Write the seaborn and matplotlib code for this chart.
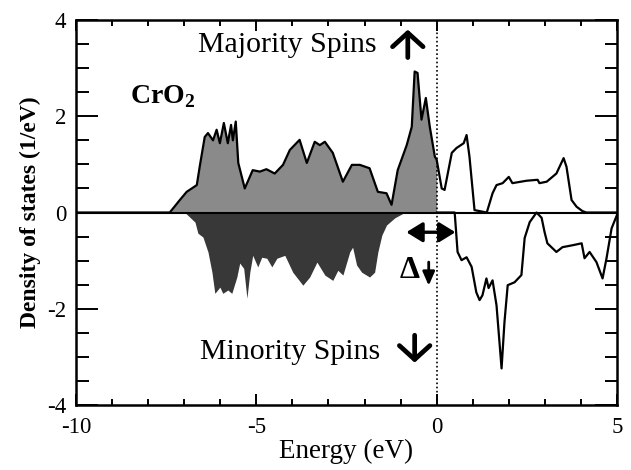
import numpy as np
import pandas as pd
import matplotlib
matplotlib.use("Agg")
import matplotlib.pyplot as plt
from matplotlib.ticker import MultipleLocator
import seaborn as sns

# Majority-spin DOS (1/eV) vs energy (eV)
maj_E = [-10, -7.4, -7.12, -6.93, -6.65, -6.57, -6.43, -6.34, -6.2, -6.1, -6.01, -5.9, -5.79, -5.7,
         -5.65, -5.57, -5.5, -5.32, -5.1, -4.9, -4.72, -4.49, -4.26, -4.07, -3.8, -3.6, -3.38, -3.24,
         -3.1, -2.88, -2.6, -2.35, -2.13, -1.86, -1.63, -1.39, -1.25, -1.08, -0.83, -0.69, -0.61,
         -0.53, -0.42, -0.3, -0.19, -0.05, 0.0, 0.14, 0.22, 0.42, 0.55, 0.75, 0.83, 0.91, 1.05, 1.39,
         1.55, 1.66, 1.83, 2.0, 2.1, 2.49, 2.8, 2.85, 3.05, 3.32, 3.52, 3.6, 3.74, 3.88, 4.04, 4.15, 5.0]
maj_D = [0, 0, 0.26, 0.43, 0.57, 0.95, 1.57, 1.65, 1.5, 1.72, 1.44, 1.86, 1.44, 1.82,
         1.5, 1.89, 1.03, 0.5, 0.88, 0.85, 0.9, 0.81, 0.99, 1.3, 1.51, 1.03, 1.47, 1.4,
         1.47, 1.24, 0.64, 0.99, 0.99, 0.92, 0.43, 0.4, 0.16, 0.88, 1.4, 1.78, 2.93,
         2.9, 1.93, 2.38, 1.78, 1.16, 1.1, 0.5, 0.47, 1.24, 1.34, 1.44, 1.61, 1.16, 0.05, 0.0,
         0.4, 0.57, 0.61, 0.74, 0.61, 0.66, 0.68, 0.61, 0.64, 0.81, 1.13, 0.95, 0.26, 0.12, 0.03, 0.0, 0.0]

# Minority-spin DOS (negative) vs energy (eV)
min_E = [-10, -6.98, -6.7, -6.62, -6.48, -6.34, -6.23, -6.15, -6.01, -5.93, -5.79, -5.68, -5.54,
         -5.46, -5.35, -5.26, -5.18, -5.1, -4.96, -4.85, -4.71, -4.57, -4.43, -4.21, -3.99, -3.71,
         -3.52, -3.32, -3.1, -2.88, -2.74, -2.6, -2.41, -2.33, -2.22, -2.08, -1.86, -1.72, -1.63,
         -1.52, -1.39, -1.16, -0.89, 0.0, 0.5, 0.58, 0.69, 0.83, 0.97, 1.1, 1.19, 1.27, 1.38, 1.44,
         1.55, 1.66, 1.8, 1.88, 1.97, 2.16, 2.35, 2.44, 2.58, 2.77, 2.91, 2.99, 3.07, 3.32, 3.49,
         3.77, 4.02, 4.1, 4.24, 4.43, 4.6, 4.71, 4.85, 5.0]
min_D = [0, 0, -0.2, -0.43, -0.51, -0.82, -1.24, -1.68, -1.55, -1.68, -1.61, -1.68, -1.34,
         -1.05, -1.16, -1.78, -1.24, -0.89, -1.13, -0.93, -0.95, -1.13, -0.95, -0.89, -1.24, -1.51,
         -1.34, -1.03, -1.3, -1.41, -1.2, -1.3, -0.82, -0.72, -1.09, -1.24, -1.34, -1.24, -0.82,
         -0.47, -0.26, -0.11, 0, 0, 0, -0.82, -0.99, -0.93, -1.13, -1.66, -1.82, -1.72, -1.37, -1.57,
         -1.41, -1.93, -3.24, -2.28, -1.51, -1.45, -1.3, -0.53, -0.2, 0.0, -0.11, -0.4, -0.64, -0.82, -0.72,
         -0.68, -0.64, -0.95, -0.82, -1.03, -1.37, -0.95, -0.33, -0.05]

x_ticks = [-10, -5, 0, 5]
y_ticks = [-4, -2, 0, 2, 4]

maj = pd.DataFrame({"E": maj_E, "D": maj_D})
mino = pd.DataFrame({"E": min_E, "D": min_D})

sns.set_theme(style="ticks")
plt.rcParams["font.family"] = ["Liberation Serif", "DejaVu Serif"]
plt.rcParams["text.color"] = "black"
plt.rcParams["axes.labelcolor"] = "black"
plt.rcParams["xtick.color"] = "black"
plt.rcParams["ytick.color"] = "black"
plt.rcParams["mathtext.fontset"] = "custom"
plt.rcParams["mathtext.rm"] = "Liberation Serif"
plt.rcParams["mathtext.bf"] = "Liberation Serif:bold"

fig = plt.figure(figsize=(6.31, 4.70), dpi=100)
ax = fig.add_axes([0.1204, 0.1383, 0.8574, 0.8191])

occ_maj = maj[maj["E"] <= 0]
occ_min = mino[mino["E"] <= 0]
ax.fill_between(occ_maj["E"], 0, occ_maj["D"], color="#8a8a8a", lw=0, zorder=1)
ax.fill_between(occ_min["E"], 0, occ_min["D"], color="#383838", lw=0, zorder=1)

sns.lineplot(data=maj, x="E", y="D", ax=ax, color="black", lw=1.6, sort=False, zorder=3)
sns.lineplot(data=mino[mino["E"] >= 0], x="E", y="D", ax=ax, color="black", lw=1.6,
             sort=False, zorder=3)

ax.axhline(0, color="black", lw=1.5, zorder=2)
ax.axvline(0, color="black", lw=1.2, ls=(0, (1, 1.5)), zorder=2)

ax.set_xlim(-10, 5)
ax.set_ylim(-4, 4)
ax.set_xticks(x_ticks)
ax.set_yticks(y_ticks)
ax.set_xticklabels([str(t) for t in x_ticks])
ax.set_yticklabels([str(t) for t in y_ticks])
ax.xaxis.set_minor_locator(MultipleLocator(1))
ax.yaxis.set_minor_locator(MultipleLocator(0.5))
ax.tick_params(which="both", direction="in", top=True, right=True, width=1.4, colors="black",
               labelsize=16.5)
ax.tick_params(axis="x", which="major", length=8, pad=9)
ax.tick_params(axis="x", which="minor", length=4)
ax.tick_params(axis="y", which="major", length=16, pad=7)
ax.tick_params(axis="y", which="minor", length=9)
for s in ax.spines.values():
    s.set_linewidth(1.8)
    s.set_color("black")

ax.set_xlabel("Energy (eV)", fontsize=19.5, labelpad=0)
ax.set_ylabel("Density of states (1/eV)", fontsize=17, fontweight="bold", labelpad=4)

ax.text(-6.62, 3.34, "Majority Spins", fontsize=21.5, va="baseline", ha="left")
ax.text(-6.57, -3.05, "Minority Spins", fontsize=21.5, va="baseline", ha="left")
ax.text(-8.5, 2.28, r"$\mathbf{CrO}_{\mathbf{2}}$", fontsize=20, va="baseline", ha="left")
ax.text(-1.03, -1.36, "Δ", fontsize=23, fontweight="bold", va="baseline", ha="left")

arw = dict(arrowstyle="->,head_length=0.5,head_width=0.55", lw=3.4, color="black",
           shrinkA=0, shrinkB=0, mutation_scale=20)
ax.annotate("", xy=(-0.8, 3.8), xytext=(-0.8, 3.22), arrowprops=arw)
ax.annotate("", xy=(-0.61, -3.12), xytext=(-0.61, -2.55), arrowprops=arw)
ax.annotate("", xy=(-0.22, -1.52), xytext=(-0.22, -1.03),
            arrowprops=dict(arrowstyle="-|>,head_length=0.55,head_width=0.24", lw=2,
                            color="black", shrinkA=0, shrinkB=0, mutation_scale=15))
ax.annotate("", xy=(0.52, -0.41), xytext=(-0.84, -0.41),
            arrowprops=dict(arrowstyle="<|-|>,head_length=0.65,head_width=0.4", lw=2.4,
                            color="black", shrinkA=0, shrinkB=0, mutation_scale=15))

fig.savefig("out.png", dpi=100)
